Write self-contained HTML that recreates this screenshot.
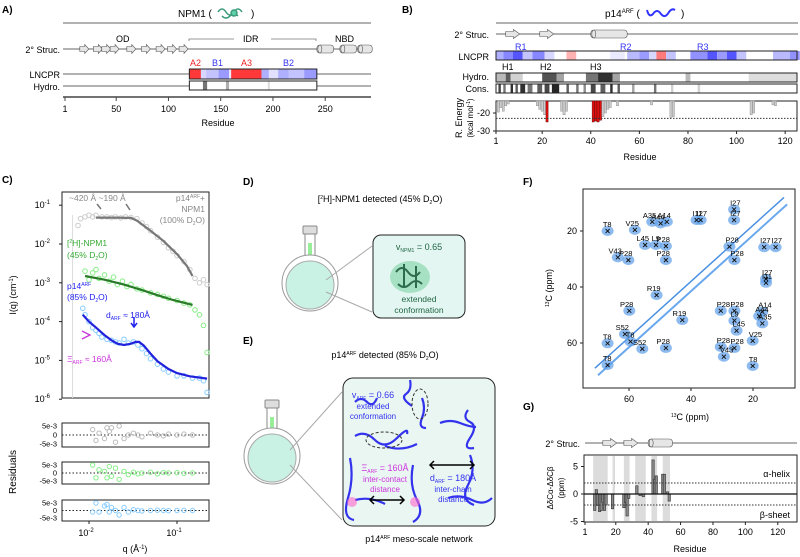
<!DOCTYPE html>
<html><head><meta charset="utf-8"><style>
html,body{margin:0;padding:0;background:#fff}
svg{display:block;font-family:"Liberation Sans",Arial,sans-serif}
</style></head><body>
<svg id="fig" width="800" height="557" viewBox="0 0 800 557">
<g id="pA">
<text x="2" y="13" font-size="10" font-weight="bold">A)</text>
<text x="178" y="17" font-size="10">NPM1 (</text>
<g fill="none" stroke="#3a9a7a" stroke-width="1.5"><path d="M218 12 q4 -6 8 0 t8 0 t8 0 M222 16 q4 4 8 0 t8 0"/><circle cx="234" cy="13" r="3" fill="#5fd0a8"/></g>
<text x="251" y="17" font-size="10">)</text>
<line x1="63" y1="23" x2="371" y2="23" stroke="#999" stroke-width="1.5"/>
<text x="60" y="53" font-size="9" text-anchor="end">2° Struc.</text>
<line x1="63" y1="49" x2="371" y2="49" stroke="#333" stroke-width="0.7"/>
<g id="aStruc"></g>
<text x="116" y="42" font-size="9">OD</text>
<text x="243" y="42" font-size="9">IDR</text>
<path d="M189 41 v-2 h45 M316 41 v-2 h-45" fill="none" stroke="#777" stroke-width="0.8"/>
<text x="335" y="42" font-size="9">NBD</text>
<text x="60" y="78" font-size="9" text-anchor="end">LNCPR</text>
<text x="60" y="90" font-size="9" text-anchor="end">Hydro.</text>
<line x1="63" y1="74" x2="371" y2="74" stroke="#333" stroke-width="0.7"/>
<line x1="63" y1="86" x2="371" y2="86" stroke="#333" stroke-width="0.7"/>
<g id="aHeat"></g>
<text x="190" y="66" font-size="9" fill="#e22">A2</text>
<text x="212" y="66" font-size="9" fill="#33e">B1</text>
<text x="241" y="66" font-size="9" fill="#e22">A3</text>
<text x="283" y="66" font-size="9" fill="#33e">B2</text>
<line x1="63" y1="97" x2="371" y2="97" stroke="#444" stroke-width="1.5"/>
<g id="aTicks"></g>
<text x="218" y="126" font-size="9" text-anchor="middle">Residue</text>
</g>

<g id="pB">
<text x="402" y="13" font-size="10" font-weight="bold">B)</text>
<text x="605" y="17" font-size="10">p14<tspan font-size="6" dy="-4">ARF</tspan><tspan dy="4"> (</tspan></text>
<path d="M647 10 q2 8 6 4 q4 -6 8 0 q4 5 8 -2 q3 -4 6 -2" fill="none" stroke="#33f" stroke-width="2"/>
<text x="681" y="17" font-size="10">)</text>
<line x1="496" y1="23" x2="798" y2="23" stroke="#999" stroke-width="1.5"/>
<text x="489" y="38" font-size="9" text-anchor="end">2° Struc.</text>
<line x1="496" y1="34" x2="798" y2="34" stroke="#333" stroke-width="0.7"/>
<g id="bStruc"></g>
<text x="489" y="60" font-size="9" text-anchor="end">LNCPR</text>
<text x="489" y="80" font-size="9" text-anchor="end">Hydro.</text>
<text x="489" y="92" font-size="9" text-anchor="end">Cons.</text>
<g id="bHeat"></g>
<text x="515" y="50" font-size="9" fill="#33e">R1</text>
<text x="620" y="50" font-size="9" fill="#33e">R2</text>
<text x="697" y="50" font-size="9" fill="#33e">R3</text>
<text x="502" y="70" font-size="9">H1</text>
<text x="540" y="70" font-size="9">H2</text>
<text x="590" y="70" font-size="9">H3</text>
<rect x="496" y="101" width="301" height="30" fill="none" stroke="#222" stroke-width="1"/>
<g id="bEnergy"></g>
<g id="bTicks"></g>
<text x="640" y="160" font-size="9" text-anchor="middle">Residue</text>
<text transform="translate(462,118) rotate(-90)" font-size="9" text-anchor="middle">R. Energy</text>
<text transform="translate(473,118) rotate(-90)" font-size="8" text-anchor="middle">(kcal mol<tspan font-size="5" dy="-3">-1</tspan><tspan dy="3">)</tspan></text>
</g>

<g id="pC">
<text x="2" y="183" font-size="10" font-weight="bold">C)</text>
<rect x="62" y="192" width="147" height="206" fill="none" stroke="#222"/>
<g id="cMain"></g>
<text transform="translate(16,295) rotate(-90)" font-size="9" text-anchor="middle">I(q) (cm<tspan font-size="6" dy="-3">-1</tspan><tspan dy="3">)</tspan></text>
<text x="69" y="201" font-size="8.5" fill="#888">~420 Å ~190 Å</text>
<text x="205" y="201" font-size="8.5" fill="#888" text-anchor="end">p14<tspan font-size="5" dy="-3">ARF</tspan><tspan dy="3">+</tspan></text>
<text x="205" y="212" font-size="8.5" fill="#888" text-anchor="end">NPM1</text>
<text x="205" y="223" font-size="8.5" fill="#888" text-anchor="end">(100% D<tspan font-size="5" dy="2">2</tspan><tspan dy="-2">O)</tspan></text>
<text x="67" y="246" font-size="8.5" fill="#3a3">[<tspan font-size="5" dy="-3">2</tspan><tspan dy="3">H]-NPM1</tspan></text>
<text x="67" y="258" font-size="8.5" fill="#3a3">(45% D<tspan font-size="5" dy="2">2</tspan><tspan dy="-2">O)</tspan></text>
<text x="67" y="289" font-size="8.5" fill="#22e">p14<tspan font-size="5" dy="-3">ARF</tspan></text>
<text x="67" y="300" font-size="8.5" fill="#22e">(85% D<tspan font-size="5" dy="2">2</tspan><tspan dy="-2">O)</tspan></text>
<text x="106" y="318" font-size="8.5" fill="#22e">d<tspan font-size="5" dy="2">ARF</tspan><tspan dy="-2"> ≈ 180Å</tspan></text>
<text x="67" y="362" font-size="8.5" fill="#c3d">Ξ<tspan font-size="5" dy="2">ARF</tspan><tspan dy="-2"> ≈ 160Å</tspan></text>
<path d="M82 331 l8 4 l-8 4" fill="none" stroke="#c3d" stroke-width="1.3"/>
<path d="M134 317 v9 M131 323 l3 4 l3 -4" fill="none" stroke="#22e" stroke-width="1.5"/>
<path d="M97 204 l4 5 M126 204 l4 6" stroke="#777" stroke-width="1.5"/>
<g id="cRes"></g>
<text transform="translate(16,472) rotate(-90)" font-size="10" text-anchor="middle">Residuals</text>
<text x="135" y="552" font-size="9" text-anchor="middle">q (Å<tspan font-size="6" dy="-3">-1</tspan><tspan dy="3">)</tspan></text>
</g>

<g id="pD">
<text x="243" y="185" font-size="10" font-weight="bold">D)</text>
<text x="380" y="202" font-size="9" text-anchor="middle">[<tspan font-size="5" dy="-3">2</tspan><tspan dy="3">H]-NPM1 detected (45% D</tspan><tspan font-size="5" dy="2">2</tspan><tspan dy="-2">O)</tspan></text>
<g>
<rect x="303" y="226" width="14" height="8" rx="1" fill="#ddd" stroke="#888"/>
<rect x="305" y="234" width="10" height="22" fill="#fff" stroke="#888"/>
<rect x="308" y="243" width="4" height="12" fill="#9e9"/>
<circle cx="310" cy="283" r="28" fill="#fff" stroke="#999"/>
<circle cx="310" cy="285" r="24" fill="#c9f2e4" stroke="#aaa"/>
<line x1="326" y1="280" x2="372" y2="246" stroke="#aaa"/><line x1="326" y1="292" x2="372" y2="312" stroke="#aaa"/>
</g>
<rect x="373" y="235" width="92" height="83" rx="8" fill="#e3f6f2" stroke="#222"/>
<ellipse cx="410" cy="277" rx="20" ry="16" fill="#7fd3a5" opacity="0.6"/>
<path d="M396 272 q6 -8 12 0 t12 0 M398 284 q6 6 12 0 t12 0 M404 264 v24 M416 266 v22" fill="none" stroke="#2c6b4c" stroke-width="2"/>
<text x="419" y="250" font-size="9" text-anchor="middle" fill="#264">v<tspan font-size="5" dy="2">NPM1</tspan><tspan dy="-2"> = 0.65</tspan></text>
<text x="419" y="302" font-size="8.5" text-anchor="middle" fill="#264">extended</text>
<text x="419" y="313" font-size="8.5" text-anchor="middle" fill="#264">conformation</text>
</g>

<g id="pE">
<text x="243" y="344" font-size="10" font-weight="bold">E)</text>
<text x="385" y="358" font-size="9" text-anchor="middle">p14<tspan font-size="5" dy="-3">ARF</tspan><tspan dy="3"> detected (85% D</tspan><tspan font-size="5" dy="2">2</tspan><tspan dy="-2">O)</tspan></text>
<g>
<rect x="265" y="400" width="14" height="8" rx="1" fill="#ddd" stroke="#888"/>
<rect x="267" y="408" width="10" height="22" fill="#fff" stroke="#888"/>
<rect x="270" y="417" width="4" height="12" fill="#9e9"/>
<circle cx="272" cy="456" r="28" fill="#fff" stroke="#999"/>
<circle cx="272" cy="458" r="24" fill="#c9f2e4" stroke="#aaa"/>
<line x1="290" y1="450" x2="342" y2="392" stroke="#aaa"/><line x1="290" y1="465" x2="342" y2="520" stroke="#aaa"/>
</g>
<rect x="343" y="378" width="152" height="148" rx="10" fill="#eaf6f2" stroke="#222"/>
<g fill="none" stroke="#33e" stroke-width="2.2">
<path d="M355 402 q6 -6 12 0 t10 -4"/><path d="M410 380 q2 10 -4 14 t6 12"/><path d="M422 398 q4 10 0 20 t4 10"/>
<path d="M355 436 q10 -6 20 4 t22 -2 t10 -4"/><path d="M385 446 q16 6 32 -2"/>
<path d="M468 410 q-6 8 2 12 t0 16 t4 10"/><path d="M440 423 q10 -4 20 0 t16 4"/>
<path d="M350 458 q4 20 -2 40 t6 22"/><path d="M413 465 q-4 20 4 35 t-4 22"/>
<path d="M470 455 q6 15 -2 30 t6 20"/><path d="M448 498 q12 -4 24 2 t20 -2"/><path d="M355 500 q15 -4 30 4"/>
</g>
<ellipse cx="420" cy="404" rx="8" ry="15" fill="none" stroke="#333" stroke-dasharray="3,2"/>
<ellipse cx="384" cy="440" rx="18" ry="8" fill="none" stroke="#333" stroke-dasharray="3,2"/>
<text x="373" y="398" font-size="9" text-anchor="middle" fill="#33e">v<tspan font-size="5" dy="2">ARF</tspan><tspan dy="-2"> = 0.66</tspan></text>
<text x="373" y="409" font-size="8" text-anchor="middle" fill="#33e">extended</text>
<text x="373" y="419" font-size="8" text-anchor="middle" fill="#33e">conformation</text>
<text x="385" y="471" font-size="9" text-anchor="middle" fill="#c3d">Ξ<tspan font-size="5" dy="2">ARF</tspan><tspan dy="-2"> = 160Å</tspan></text>
<text x="385" y="482" font-size="8" text-anchor="middle" fill="#c3d">inter-contact</text>
<text x="385" y="492" font-size="8" text-anchor="middle" fill="#c3d">distance</text>
<text x="453" y="481" font-size="9" text-anchor="middle" fill="#33e">d<tspan font-size="5" dy="2">ARF</tspan><tspan dy="-2"> = 180Å</tspan></text>
<text x="453" y="492" font-size="8" text-anchor="middle" fill="#33e">inter-chain</text>
<text x="453" y="502" font-size="8" text-anchor="middle" fill="#33e">distance</text>
<path d="M430 465 h44 M434 461 l-4 4 l4 4 M470 461 l4 4 l-4 4" fill="none" stroke="#000" stroke-width="1.5"/>
<path d="M370 500 h34 M374 496 l-4 4 l4 4 M400 496 l4 4 l-4 4" fill="none" stroke="#000" stroke-width="1.5"/>
<circle cx="352" cy="502" r="5" fill="#f6c" opacity="0.6"/><circle cx="415" cy="502" r="5" fill="#f6c" opacity="0.6"/>
<text x="419" y="542" font-size="9" text-anchor="middle">p14<tspan font-size="5" dy="-3">ARF</tspan><tspan dy="3"> meso-scale network</tspan></text>
</g>

<g id="pF">
<text x="523" y="185" font-size="10" font-weight="bold">F)</text>
<rect x="583" y="189" width="212" height="199" fill="#fff" stroke="#222"/>
<g id="fPlot"></g>
<text x="690" y="420" font-size="9" text-anchor="middle"><tspan font-size="5" dy="-3">13</tspan><tspan dy="3">C (ppm)</tspan></text>
<text transform="translate(552,288) rotate(-90)" font-size="9" text-anchor="middle"><tspan font-size="5" dy="-3">13</tspan><tspan dy="3">C (ppm)</tspan></text>
</g>

<g id="pG">
<text x="523" y="410" font-size="10" font-weight="bold">G)</text>
<text x="580" y="447" font-size="9" text-anchor="end">2° Struc.</text>
<line x1="585" y1="443" x2="797" y2="443" stroke="#333" stroke-width="0.7"/>
<g id="gStruc"></g>
<rect x="584" y="455" width="213" height="67" fill="none" stroke="#222"/>
<g id="gPlot"></g>
<text x="790" y="477" font-size="9" text-anchor="end">α-helix</text>
<text x="790" y="518" font-size="9" text-anchor="end">β-sheet</text>
<text x="690" y="552" font-size="9" text-anchor="middle">Residue</text>
<text transform="translate(553,488) rotate(-90)" font-size="8" text-anchor="middle">ΔδCα-ΔδCβ</text>
<text transform="translate(564,488) rotate(-90)" font-size="8" text-anchor="middle">(ppm)</text>
</g>
</svg>
<script>
// ---- Panel A data
const aTickVals=[1,50,100,150,200,250];
const aStrandRes=[19,32,40,48,64,78,92,103,114];
const aHelixRes=[[242,258],[264,280],[281,295]];
const aLncprSegs=[[120,131,-0.9],[131,136,0.2],[136,148,0.3],[148,158,0.5],[158,160,0.1],[160,189,-0.9],[189,196,0.4],[196,205,0.15],[205,215,0.4],[215,230,0.3],[230,242,0.5]];
const aHydroSegs=[[133,137,0.6],[155,158,0.35],[195,197,0.15]];
// ---- Panel B data
const bTickVals=[1,20,40,60,80,100,120];
const bEnergyTicks=[-20,-30];
const bStrandRes=[5,19];
const bHelix=[40,55];
const bLncprSegs=[[1,4,0.4],[4,8,0.6],[8,12,0.85],[12,16,0.3],[16,21,0.6],[21,25,0.2],[30,34,-0.35],[48,54,0.1],[55,60,0.35],[60,64,0.5],[64,67,0.2],[67,71,-0.6],[71,75,0.3],[81,88,0.55],[88,92,0.85],[92,96,0.5],[96,100,0.85],[100,104,0.3],[115,122,0.35],[122,126,0.55],[126,132,0.3]];
const bHydroSegs=[[1,5,0.3],[5,7,0.7],[7,12,0.2],[20,26,0.75],[26,29,0.4],[38,43,0.6],[43,49,0.9],[49,52,0.4],[79,81,0.3],[105,125,0.15]];
const bConsSegs=[[2,3,0.8],[4,5,0.6],[7,8,0.9],[9,10,0.7],[11,13,0.9],[14,16,0.6],[18,20,0.7],[21,23,0.8],[24,27,0.95],[30,31,0.7],[34,35,0.6],[37,38,0.5],[40,42,0.8],[44,46,0.7],[48,49,0.9],[51,52,0.7],[57,58,0.4],[66,67,0.6],[73,74,0.2],[84,85,0.2]];
const bEnergyRes=[2,3,4,5,6,18,19,20,21,22,28,29,30,41,42,43,44,45,46,47,48,51,65,73,74,106,107,115,116];
const bEnergyVal=[-19.5,-17,-19,-16,-15,-16,-18,-19,-21,-25,-19,-21,-19,-25,-24.5,-25,-24,-22,-20,-18,-17,-16,-15.5,-22.5,-22,-21,-20,-15.5,-16];
const bHotspot=[22,41,42,43,44];
// ---- Panel C data
const cYDecades=[-1,-2,-3,-4,-5,-6];
const grayQ=[0.0075,0.008,0.009,0.010,0.011,0.012,0.014,0.016,0.018,0.02,0.023,0.026,0.03,0.035,0.04,0.045,0.05,0.06,0.07,0.08,0.09,0.1,0.12,0.14,0.16,0.18,0.2,0.22];
const grayI=[0.03,0.045,0.05,0.055,0.05,0.055,0.05,0.05,0.048,0.05,0.047,0.05,0.048,0.045,0.035,0.028,0.022,0.015,0.011,0.008,0.0065,0.005,0.0035,0.0022,0.0013,0.001,0.0012,0.0009];
const grayFitQ=[0.012,0.02,0.03,0.035,0.04,0.05,0.07,0.1,0.13,0.15];
const grayFitI=[0.048,0.048,0.047,0.04,0.032,0.022,0.012,0.0055,0.0027,0.0015];
const greenQ=[0.009,0.01,0.011,0.012,0.013,0.015,0.017,0.019,0.021,0.024,0.027,0.03,0.035,0.04,0.05,0.06,0.07,0.08,0.1,0.12,0.14,0.16,0.18,0.2,0.22];
const greenI=[2e-3,1.2e-3,1.8e-3,2.2e-3,1.3e-3,1.6e-3,1.1e-3,1.4e-3,9e-4,1.1e-3,8e-4,9e-4,7e-4,6.5e-4,5.5e-4,5e-4,4.5e-4,4e-4,3.5e-4,3e-4,2.7e-4,2e-4,1.5e-4,8e-5,1.6e-5];
const greenFitQ=[0.009,0.015,0.025,0.04,0.06,0.09,0.15];
const greenFitI=[1.5e-3,1.2e-3,9e-4,6.5e-4,4.8e-4,3.6e-4,2.7e-4];
const blueQ=[0.0085,0.009,0.01,0.011,0.012,0.013,0.014,0.016,0.018,0.02,0.022,0.025,0.028,0.032,0.036,0.04,0.045,0.05,0.06,0.07,0.08,0.1,0.12,0.15,0.18,0.2,0.22];
const blueI=[2.2e-4,1.5e-4,1e-4,7e-5,6e-5,5e-5,4e-5,3.5e-5,3.3e-5,3e-5,2.8e-5,3.5e-5,2.8e-5,3e-5,2.5e-5,2e-5,1.5e-5,1.1e-5,8e-6,6e-6,5e-6,4e-6,4e-6,3.5e-6,3.5e-6,3e-6,1.5e-6];
const blueFitQ=[0.0085,0.01,0.012,0.015,0.018,0.021,0.025,0.03,0.034,0.037,0.042,0.05,0.06,0.08,0.1,0.14,0.22];
const blueFitI=[1.5e-4,1e-4,7e-5,4.5e-5,3.3e-5,2.7e-5,2.5e-5,2.7e-5,3e-5,3e-5,2.4e-5,1.5e-5,9.5e-6,6e-6,4.7e-6,3.9e-6,3.4e-6];
const resQ=[0.011,0.012,0.013,0.015,0.016,0.017,0.018,0.02,0.022,0.025,0.028,0.032,0.036,0.04,0.05,0.06,0.07,0.08,0.1,0.12,0.15];
const resGray=[3,-3,1,-2,4,2,4,-4,5,-2,0,1,0,-1,1,0,-0.5,0.5,0,0.5,0];
const resGreen=[5,-3,2,1,-3,4,-2,3,-4,1,-1,0.5,-0.5,0,0.5,-0.5,0.3,0,0.2,-0.2,0];
const resBlue=[-1,5,-1,3,4,-1,2,0,-3,2,-1,0.5,0,-0.3,0,0.2,0,-0.1,0,0.1,0];
// ---- Panel F data
const fTicks=[20,40,60];
const peakX=[66.9,58.1,52.5,49.8,47.8,38.2,36.9,26.1,26.1,54.8,51.3,48.1,63.6,60.2,48.1,27.6,26,16.4,12.7,15.8,15.8,51.1,42.8,59.9,30.4,26,26,17,18,17,25.3,61.3,66.9,20.1,48.1,30.4,26,29.4,55.7,66.9,59.5,20.1];
const peakY=[20,19.6,16.7,17.3,16.7,16.1,16.1,12.3,16.1,25,25,25.4,29.4,30.4,30.4,25.6,30.4,25.8,25.8,37.1,38.5,42.9,51.8,48.5,48.5,48.5,52,48.8,50.4,53,55.6,56.8,60.1,59.2,61.8,61.4,61.8,64.9,62.1,67.9,59.5,68.2];
const peakLab=["T8","V25","A35","A44","A14","I11","I27","I27","I27","L45","L9","P28","V43","P28","P28","P28","P28","I27","I27","I27","I11","R19","R19","P28","P28","P28","L9","A14","A44","A35","L45","S52","T8","V25","P28","P28","P28","V43","S52","T8","T8","T8"];
// ---- Panel G data
const gTickVals=[1,20,40,60,80,100,120];
const gYTicks=[5,0,-5];
const gBarRes=[7,8,9,10,11,12,13,14,18,25,26,27,28,33,35,37,43,44,45,49,50,52,53];
const gBarVal=[-3,0.8,-2.1,-3.2,-3,-1.5,-3,-2,-2.7,-2.5,-1.5,-4,-0.8,1.5,-0.3,-0.5,6.2,2.7,3.3,3.6,3.6,0.4,-1.3];
const gBands=[[6,15],[18,19.5],[25,28.5],[32,38.5],[42,45.5],[49,53.5]];

const NS="http://www.w3.org/2000/svg";
function mk(parent,tag,attrs,text){const e=document.createElementNS(NS,tag);for(const k in attrs)e.setAttribute(k,attrs[k]);if(text!==undefined)e.textContent=text;parent.appendChild(e);return e;}
function col(v){
 const a=Math.min(1,Math.abs(v));
 if(v>=0){const c=Math.round(255-200*a);return `rgb(${c},${c},255)`;} const c=Math.round(255-220*a);return `rgb(255,${c},${c})`;}
function gray(v){const c=Math.round(255-230*v);return `rgb(${c},${c},${c})`;}
function arrow(g,x,y,w){mk(g,'path',{d:`M${x} ${y-2.5} h${w*0.55} v-2 l${w*0.45} 4.5 l${-w*0.45} 4.5 v-2 h${-w*0.55}z`,fill:'#e6e6e6',stroke:'#555','stroke-width':0.6});}
function cyl(g,x1,x2,y){mk(g,'rect',{x:x1,y:y-4,width:x2-x1,height:8,rx:3,fill:'#e6e6e6',stroke:'#555','stroke-width':0.6});mk(g,'ellipse',{cx:x1+3,cy:y,rx:2,ry:4,fill:'none',stroke:'#555','stroke-width':0.6});}

// Panel A
const xA=r=>65+(r-1)*1.045;
{const g=document.getElementById('aStruc');
for(const r of aStrandRes){arrow(g,xA(r)-4,49,9);}
for(const h of aHelixRes){cyl(g,xA(h[0]),xA(h[1]),49);}
const hg=document.getElementById('aHeat');
mk(hg,'rect',{x:xA(120),y:69,width:xA(242)-xA(120),height:10,fill:'#fff'});
for(const s of aLncprSegs){const r=mk(hg,'rect',{x:xA(s[0]),y:69,width:xA(s[1])-xA(s[0])+0.3,height:10,fill:col(s[2])});

}
mk(hg,'rect',{x:xA(120),y:69,width:xA(242)-xA(120),height:10,fill:'none',stroke:'#222'});
mk(hg,'rect',{x:xA(120),y:81,width:xA(242)-xA(120),height:9,fill:'#fff',stroke:'#222'});
for(const s of aHydroSegs){mk(hg,'rect',{x:xA(s[0]),y:81.5,width:xA(s[1])-xA(s[0]),height:8,fill:gray(s[2])});}
const tg=document.getElementById('aTicks');
for(const t of aTickVals){mk(tg,'line',{x1:xA(t),x2:xA(t),y1:97,y2:101,stroke:'#444'});const tx=mk(tg,'text',{x:xA(t),y:112,'font-size':9,'text-anchor':'middle'},String(t));

}}

// Panel B
const xB=r=>496+(r-1)*2.43;
const yE=v=>113-(v+20)*1.8;
{const g=document.getElementById('bStruc');
for(const r of bStrandRes){arrow(g,xB(r),34,14);}
cyl(g,xB(bHelix[0]),xB(bHelix[1]),34);
const hg=document.getElementById('bHeat');
for(const [segs,y,h,f] of [[bLncprSegs,51,9,col],[bHydroSegs,73,9,gray],[bConsSegs,84,9,gray]]){
 for(const s of segs){const r=mk(hg,'rect',{x:xB(s[0]),y:y,width:xB(s[1])-xB(s[0]),height:h,fill:f(s[2])});
 
 }
 mk(hg,'rect',{x:496,y:y,width:301,height:h,fill:'none',stroke:'#222'});}
const eg=document.getElementById('bEnergy');
bEnergyRes.forEach((r,i)=>{const v=bEnergyVal[i];const hot=bHotspot.includes(r);
 const b=mk(eg,'rect',{x:xB(r)-1.1,y:101,width:2.2,height:yE(v)-101,fill:hot?'#e01010':'#ccc',stroke:hot?'#600':'#888','stroke-width':0.4});
 
 });
mk(eg,'line',{x1:496,x2:797,y1:yE(-23),y2:yE(-23),stroke:'#333','stroke-dasharray':'1.5,1.5'});
const tg=document.getElementById('bTicks');
for(const t of bEnergyTicks){mk(tg,'line',{x1:493,x2:496,y1:yE(t),y2:yE(t),stroke:'#222'});mk(tg,'text',{x:490,y:yE(t)+3,'font-size':9,'text-anchor':'end'},String(t));}
for(const t of bTickVals){mk(tg,'line',{x1:xB(t),x2:xB(t),y1:131,y2:134,stroke:'#222'});const tx=mk(tg,'text',{x:xB(t),y:144,'font-size':9,'text-anchor':'middle'},String(t));

}}

// Panel C
const xC=q=>89+88*Math.log10(q/0.01);
const yC=I=>244-38.8*(Math.log10(I)+2);
{const g=document.getElementById('cMain');
for(const d of cYDecades){const y=yC(Math.pow(10,d));mk(g,'line',{x1:62,x2:59,y1:y,y2:y,stroke:'#222'});
 const t=mk(g,'text',{x:50,y:y+3,'font-size':9,'text-anchor':'end'},'10');mk(t,'tspan',{dy:-4,'font-size':6},String(d));}
mk(g,'line',{x1:xC(0.0065),x2:xC(0.0065),y1:215,y2:398,stroke:'#ddd'});
function pts(Q,I,c,name){Q.forEach((q,i)=>{const p=mk(g,'circle',{cx:xC(q),cy:yC(I[i]),r:2.3,fill:'none',stroke:c,'stroke-width':1});
 
 });}
function line(Q,I,c,name){const l=mk(g,'path',{d:Q.map((q,i)=>(i?'L':'M')+xC(q).toFixed(1)+' '+yC(I[i]).toFixed(1)).join(' '),fill:'none',stroke:c,'stroke-width':2.2});
 
 }
pts(grayQ,grayI,'#ccc','gray-point');pts(greenQ,greenI,'#8e8','green-point');pts(blueQ,blueI,'#8cf','blue-point');
line(grayFitQ,grayFitI,'#777','gray-fit');line(greenFitQ,greenFitI,'#2a7a2a','green-fit');line(blueFitQ,blueFitI,'#22d','blue-fit');
const rg=document.getElementById('cRes');
const boxes=[[423,447,resGray,'#bbb'],[462,484,resGreen,'#8e8'],[500,521,resBlue,'#8cf']];
for(const [t,b,vals,c] of boxes){mk(rg,'rect',{x:62,y:t,width:147,height:b-t,fill:'none',stroke:'#222'});
 const yR=v=>(t+b)/2-v*(b-t-6)/10;
 mk(rg,'line',{x1:62,x2:209,y1:yR(0),y2:yR(0),stroke:'#222','stroke-dasharray':'1.5,2'});
 for(const [v,l] of [[5,'5e-3'],[0,'0'],[-5,'-5e-3']]){mk(rg,'text',{x:57,y:yR(v)+2.5,'font-size':7.5,'text-anchor':'end'},l);}
 resQ.forEach((q,i)=>{const p=mk(rg,'circle',{cx:xC(q),cy:yR(vals[i]),r:2.2,fill:'none',stroke:c});
 
 });}
for(const d of [-2,-1]){const x=xC(Math.pow(10,d));mk(rg,'line',{x1:x,x2:x,y1:521,y2:524,stroke:'#222'});
 const t=mk(rg,'text',{x:x-3,y:536,'font-size':9,'text-anchor':'middle'},'10');mk(t,'tspan',{dy:-4,'font-size':6},String(d));}}

// Panel F
const xF=p=>629-(p-60)*3.1;
const yF=p=>231+(p-20)*2.8;
{const g=document.getElementById('fPlot');
const clip=mk(g,'clipPath',{id:'fc'});mk(clip,'rect',{x:583,y:189,width:212,height:199});
const pg=mk(g,'g',{'clip-path':'url(#fc)'});
mk(pg,'line',{x1:xF(70),y1:yF(71.5),x2:xF(9),y2:yF(10.5),stroke:'#6aa8ee','stroke-width':2});
mk(pg,'line',{x1:xF(71),y1:yF(69),x2:xF(10),y2:yF(8),stroke:'#4a90e2','stroke-width':1.5});
peakX.forEach((x,i)=>{const b=mk(pg,'ellipse',{cx:xF(x),cy:yF(peakY[i]),rx:6,ry:5,fill:'#5d9ee8',opacity:0.7});
 
 });
peakX.forEach((x,i)=>{const px=xF(x),py=yF(peakY[i]);
 const m=mk(pg,'path',{d:`M${px-2} ${py-2} l4 4 M${px+2} ${py-2} l-4 4`,stroke:'#111','stroke-width':0.9});
 
 
 const t=mk(pg,'text',{x:px+(x<40?-4:4),y:py-4,'font-size':7.5,'text-anchor':x<40?'start':'end'},peakLab[i]);
 
 });
for(const t of fTicks){mk(g,'line',{x1:580,x2:583,y1:yF(t),y2:yF(t),stroke:'#222'});mk(g,'text',{x:577,y:yF(t)+3,'font-size':9,'text-anchor':'end'},String(t));
 mk(g,'line',{x1:xF(t),x2:xF(t),y1:388,y2:391,stroke:'#222'});mk(g,'text',{x:xF(t),y:402,'font-size':9,'text-anchor':'middle'},String(t));}}

// Panel G
const xG=r=>585+(r-1)*1.62;
const yG=v=>494-v*5.5;
{const s=document.getElementById('gStruc');arrow(s,xG(12),443,14);arrow(s,xG(25),443,14);cyl(s,xG(40),xG(55),443);
const g=document.getElementById('gPlot');
for(const b of gBands){mk(g,'rect',{x:xG(b[0]),y:456,width:xG(b[1])-xG(b[0]),height:65,fill:'#dcdcdc'});}
gBarRes.forEach((r,i)=>{const v=gBarVal[i];const b=mk(g,'rect',{x:xG(r)-1.2,y:Math.min(yG(v),yG(0)),width:2.4,height:Math.abs(yG(v)-yG(0)),fill:'#888',stroke:'#333','stroke-width':0.6});
 
 });
mk(g,'line',{x1:584,x2:797,y1:yG(0),y2:yG(0),stroke:'#111','stroke-width':1.2});
for(const v of [2,-2])mk(g,'line',{x1:584,x2:797,y1:yG(v),y2:yG(v),stroke:'#333','stroke-dasharray':'1.5,1.5'});
for(const t of gYTicks){mk(g,'line',{x1:581,x2:584,y1:yG(t),y2:yG(t),stroke:'#222'});mk(g,'text',{x:578,y:yG(t)+3,'font-size':9,'text-anchor':'end'},String(t));}
for(const t of gTickVals){mk(g,'line',{x1:xG(t),x2:xG(t),y1:522,y2:525,stroke:'#222'});const tx=mk(g,'text',{x:xG(t),y:535,'font-size':9,'text-anchor':'middle'},String(t));
 
 }}
</script>
</body></html>
